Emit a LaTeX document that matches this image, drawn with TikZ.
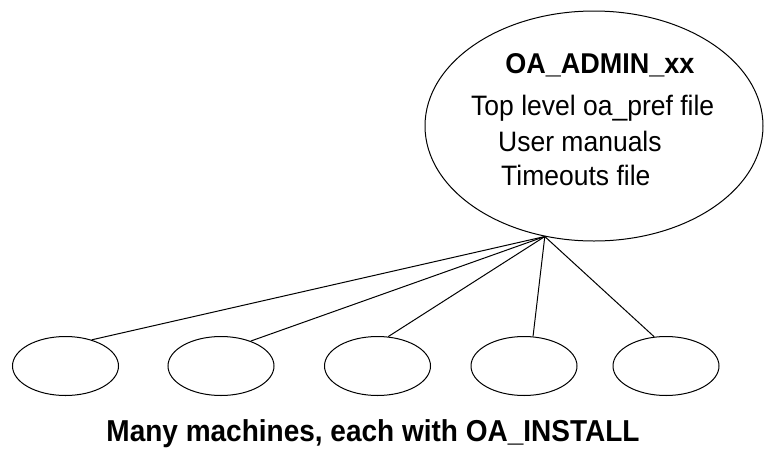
\documentclass[tikz,border=0pt]{standalone}
\usepackage{fontspec}
\setmainfont{Liberation Sans}
\usetikzlibrary{shapes.geometric}
\begin{document}
\begin{tikzpicture}[x=1pt,y=-1pt,
  bigell/.style={ellipse,draw,line width=1pt,inner sep=0pt,minimum width=338pt,minimum height=230pt},
  machine/.style={ellipse,draw,line width=1pt,inner sep=0pt,minimum width=106pt,minimum height=59pt},
  link/.style={line width=1pt},
  lbl/.style={font=\fontsize{26.5}{30}\selectfont,inner sep=0pt,anchor=base west,yscale=1.06},
  ttl/.style={font=\fontsize{27}{31}\selectfont\bfseries,inner sep=0pt,anchor=base,yscale=1.06}]
\path[use as bounding box,fill=white] (0,0) rectangle (764,448);
\node[bigell] (admin) at (594,126) {};
\node[ttl] (title) at (600,73) {OA\_ADMIN\_xx};
\node[lbl] (l1) at (471,115) {Top level oa\_pref file};
\node[lbl] (l2) at (498,151.5) {User manuals};
\node[lbl] (l3) at (501,185.5) {Timeouts file};
\coordinate (hub) at (admin.246);
\node[machine] (m1) at (65.5,366) {};
\node[machine] (m2) at (221,366) {};
\node[machine] (m3) at (377.5,366) {};
\node[machine] (m4) at (524,366) {};
\node[machine] (m5) at (666,366) {};
\draw[link] (hub) -- (m1.45);
\draw[link] (hub) -- (m2.40);
\draw[link] (hub) -- (m3.70);
\draw[link] (hub) -- (m4.73);
\draw[link] (hub) -- (m5.112);
\node[font=\fontsize{28}{32}\selectfont\bfseries,inner sep=0pt,anchor=base,yscale=1.08] (cap) at (373,441) {Many machines, each with OA\_INSTALL};
\end{tikzpicture}
\end{document}
